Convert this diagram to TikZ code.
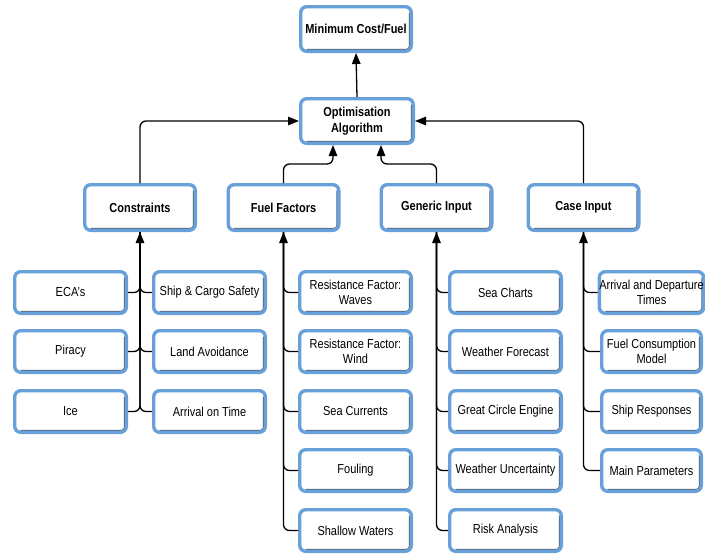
\documentclass[tikz,border=0pt]{standalone}
\usepackage{fontspec}
\setmainfont{Liberation Sans}[FakeStretch=0.845]
\usetikzlibrary{arrows.meta}
\definecolor{boxblue}{RGB}{104,160,218}
\definecolor{shadowc}{RGB}{85,95,110}
\tikzset{
  box/.style={draw=boxblue, fill=white, line width=3.4pt, rounded corners=6pt,
    inner sep=0pt, align=center, font=\fontsize{13}{15.5}\selectfont,
    path picture={\draw[shadowc, fill=none, line width=0.9pt, rounded corners=3pt]
      ([xshift=-2pt,yshift=-6pt]path picture bounding box.north east) --
      ([xshift=-2pt,yshift=2pt]path picture bounding box.south east) --
      ([xshift=6pt,yshift=2pt]path picture bounding box.south west);}},
  mainbox/.style={box, font=\fontsize{13}{15.5}\selectfont\bfseries},
  conn/.style={line width=1.3pt, rounded corners=6pt},
  arr/.style={-{Triangle[length=11pt,width=8.5pt]}},
}
\newcommand{\bx}[7][box]{\node[#1, minimum width=#5pt-3.4pt, minimum height=#6pt-3.4pt] (#2) at (#3,#4) {#7};}
\begin{document}
\begin{tikzpicture}[x=1pt,y=-1pt]
\useasboundingbox (0,0) rectangle (705,555);
% top
\bx[mainbox]{mincost}{356}{29}{114}{48}{Minimum Cost/Fuel}
\bx[mainbox]{opt}{357}{121}{116}{48}{Optimisation\\Algorithm}
% level 2
\bx[mainbox]{cons}{140}{207.5}{114}{49}{Constraints}
\bx[mainbox]{fuel}{283.5}{207.5}{114}{49}{Fuel Factors}
\bx[mainbox]{gen}{436.5}{207.5}{114}{49}{Generic Input}
\bx[mainbox]{case}{583.5}{207.5}{114}{49}{Case Input}
% constraints leaves
\bx{eca}{70.5}{292.5}{115}{45}{ECA's}
\bx{piracy}{70.5}{351.5}{115}{45}{Piracy}
\bx{ice}{70.5}{411.5}{115}{45}{Ice}
\bx{ship}{209.5}{292.5}{115}{45}{Ship \& Cargo Safety}
\bx{land}{209.5}{351.5}{115}{45}{Land Avoidance}
\bx{arrival}{209.5}{411.5}{115}{45}{Arrival on Time}
% fuel leaves
\bx{waves}{355.5}{292.5}{115}{45}{Resistance Factor:\\Waves}
\bx{wind}{355.5}{351.5}{115}{45}{Resistance Factor:\\Wind}
\bx{currents}{355.5}{411.5}{115}{45}{Sea Currents}
\bx{fouling}{355.5}{470.5}{115}{45}{Fouling}
\bx{shallow}{355.5}{530.5}{115}{45}{Shallow Waters}
% generic leaves
\bx{charts}{505.5}{292.5}{115}{45}{Sea Charts}
\bx{forecast}{505.5}{351.5}{115}{45}{Weather Forecast}
\bx{circle}{505.5}{411.5}{115}{45}{Great Circle Engine}
\bx{uncert}{505.5}{470.5}{115}{45}{Weather Uncertainty}
\bx{risk}{505.5}{530.5}{115}{45}{Risk Analysis}
% case leaves
\bx{times}{651.5}{292.5}{103}{45}{Arrival and Departure\\Times}
\bx{model}{651.5}{351.5}{103}{45}{Fuel Consumption\\Model}
\bx{resp}{651.5}{411.5}{103}{45}{Ship Responses}
\bx{params}{651.5}{470.5}{103}{45}{Main Parameters}
% top connectors
\draw[conn, arr] (opt.north) -- (mincost.south);
\draw[conn, arr] (cons.north) |- (opt.west);
\draw[conn, arr] (case.north) |- (opt.east);
\coordinate (ffturn) at (283.5,164);
\coordinate (giturn) at (436.5,164);
\draw[conn, arr] (fuel.north) -- (ffturn) -| ([xshift=-24pt]opt.south);
\draw[conn, arr] (gen.north) -- (giturn) -| ([xshift=24pt]opt.south);
% constraints branches
\draw[conn, arr] (ice.east) -| (cons.south);
\draw[conn] (arrival.west) -| (cons.south);
\draw[conn] (eca.east) -| (cons.south);
\draw[conn] (ship.west) -| (cons.south);
\draw[conn] (piracy.east) -| (cons.south);
\draw[conn] (land.west) -| (cons.south);
% fuel branches
\draw[conn, arr] (shallow.west) -| (fuel.south);
\foreach \n in {waves,wind,currents,fouling} \draw[conn] (\n.west) -| (fuel.south);
% generic branches
\draw[conn, arr] (risk.west) -| (gen.south);
\foreach \n in {charts,forecast,circle,uncert} \draw[conn] (\n.west) -| (gen.south);
% case branches
\draw[conn, arr] (params.west) -| (case.south);
\foreach \n in {times,model,resp} \draw[conn] (\n.west) -| (case.south);
\end{tikzpicture}
\end{document}
